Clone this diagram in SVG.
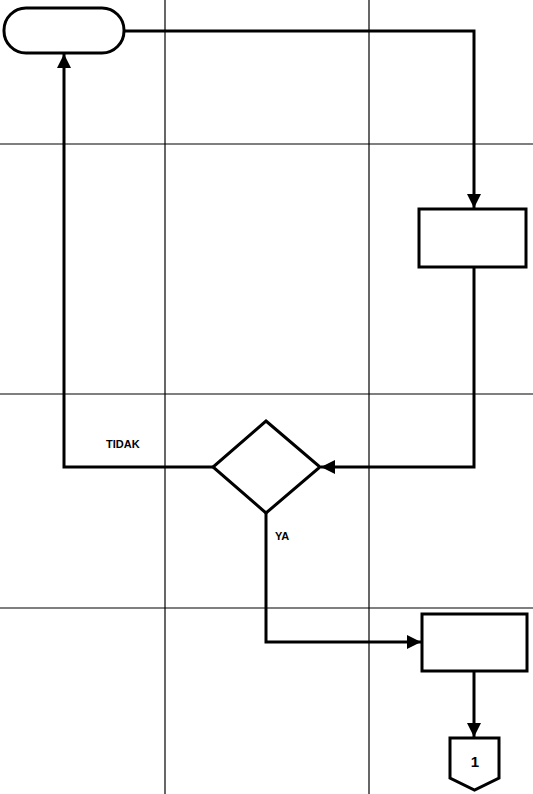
<svg xmlns="http://www.w3.org/2000/svg" width="533" height="794" viewBox="0 0 533 794">
<style>
.grid{stroke:#000;stroke-width:1.2;fill:none}
.shape{fill:#fff;stroke:#000;stroke-width:3}
.conn{fill:none;stroke:#000;stroke-width:3}
.lbl{font-family:"Liberation Sans",Arial,sans-serif;font-weight:bold;font-size:11px;fill:#000}
.num{font-size:15px}
</style>
<defs>
<marker id="arr" markerUnits="userSpaceOnUse" markerWidth="16" markerHeight="14" refX="14" refY="7" orient="auto">
<path d="M0,0 L14,7 L0,14 Z" fill="#000"/>
</marker>
</defs>
<rect width="533" height="794" fill="#fff"/>
<g id="grid">
<line class="grid" x1="165" y1="0" x2="165" y2="794"/>
<line class="grid" x1="369" y1="0" x2="369" y2="794"/>
<line class="grid" x1="0" y1="144" x2="533" y2="144"/>
<line class="grid" x1="0" y1="394" x2="533" y2="394"/>
<line class="grid" x1="0" y1="608" x2="533" y2="608"/>
</g>
<g id="connectors">
<polyline class="conn" points="124,31 474,31 474,208" marker-end="url(#arr)"/>
<polyline class="conn" points="474,268 474,467 321,467" marker-end="url(#arr)"/>
<polyline class="conn" points="213,467 64,467 64,54" marker-end="url(#arr)"/>
<polyline class="conn" points="266,513 266,642 421,642" marker-end="url(#arr)"/>
<polyline class="conn" points="474,671 474,737" marker-end="url(#arr)"/>
</g>
<g id="start">
<rect class="shape" x="4" y="8" width="120" height="45" rx="22" ry="22"/>
</g>
<g id="process1">
<rect class="shape" x="419" y="209" width="107" height="58"/>
</g>
<g id="decision">
<polygon class="shape" points="266,421 320,467 266,513 213,467"/>
</g>
<g id="process2">
<rect class="shape" x="422" y="614" width="105" height="57"/>
</g>
<g id="offpage">
<polygon class="shape" points="450,738 499,738 499,778 474.5,790 450,778"/>
<text class="lbl num" x="475" y="767" text-anchor="middle">1</text>
</g>
<g id="labels">
<text class="lbl" x="106" y="448">TIDAK</text>
<text class="lbl" x="275" y="540">YA</text>
</g>
</svg>
